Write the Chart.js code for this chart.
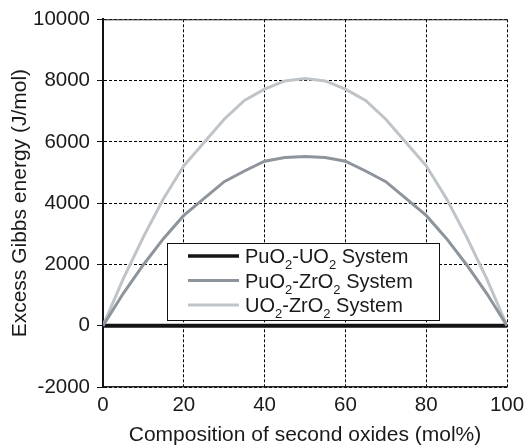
<!DOCTYPE html>
<html>
<head>
<meta charset="utf-8">
<script src="https://cdn.jsdelivr.net/npm/chart.js@4/dist/chart.umd.min.js"></script>
<style>
  html, body { margin: 0; padding: 0; background: #fff; }
  #wrap { width: 524px; height: 446px; }
</style>
</head>
<body>
<div id="wrap"><canvas id="gibbs-chart" width="524" height="446"></canvas></div>
<script>
// composition of second oxide (mol%)
const composition = [0, 5, 10, 15, 20, 30, 35, 40, 45, 50, 55, 60, 65, 70, 80, 85, 90, 95, 100];
// excess Gibbs energy (J/mol)
const puo2Uo2 = [0, 0, 0, 0, 0, 0, 0, 0, 0, 0, 0, 0, 0, 0, 0, 0, 0, 0, 0];
const puo2Zro2 = [0, 1050, 1990, 2850, 3600, 4700, 5050, 5370, 5490, 5520, 5490, 5370, 5050, 4700, 3600, 2850, 1990, 1050, 0];
const uo2Zro2 = [0, 1530, 2900, 4150, 5220, 6740, 7350, 7720, 7990, 8070, 7990, 7720, 7350, 6740, 5220, 4150, 2900, 1530, 0];

const seriesLabels = ["PuO₂-UO₂ System", "PuO₂-ZrO₂ System", "UO₂-ZrO₂ System"];
const seriesColors = ["#141414", "#8d949b", "#bfc4c9"];
const xTicks = [0, 20, 40, 60, 80, 100];
const yTicks = [-2000, 0, 2000, 4000, 6000, 8000, 10000];

const FONT = "'Liberation Sans', Arial, Helvetica, sans-serif";

function toPoints(ys) {
  return composition.map((x, i) => ({ x: x, y: ys[i] }));
}

// draws "PuO₂-UO₂ System" with a real lowered subscript
function drawSubText(ctx, text, x, y) {
  const parts = text.split("₂");
  let cx = x;
  parts.forEach((part, i) => {
    ctx.font = "20px " + FONT;
    ctx.fillText(part, cx, y);
    cx += ctx.measureText(part).width;
    if (i < parts.length - 1) {
      ctx.font = "13px " + FONT;
      ctx.fillText("2", cx, y + 6);
      cx += ctx.measureText("2").width;
    }
  });
}

const boxLegend = {
  id: "boxLegend",
  afterDraw(chart) {
    const ctx = chart.ctx;
    const area = chart.chartArea;
    ctx.save();
    // solid top frame line
    ctx.strokeStyle = "#222";
    ctx.lineWidth = 1;
    ctx.beginPath();
    ctx.moveTo(area.left, area.top + 0.5);
    ctx.lineTo(area.right, area.top + 0.5);
    ctx.stroke();

    const bx = 167, by = 243, bw = 272, bh = 77;
    ctx.fillStyle = "#fff";
    ctx.fillRect(bx, by, bw, bh);
    ctx.strokeStyle = "#111";
    ctx.lineWidth = 1;
    ctx.strokeRect(bx + 0.5, by + 0.5, bw, bh);
    ctx.textBaseline = "alphabetic";
    seriesLabels.forEach((label, i) => {
      const rowY = by + 13 + i * 24.5;
      ctx.strokeStyle = seriesColors[i];
      ctx.lineWidth = i === 0 ? 3.5 : 3;
      ctx.beginPath();
      ctx.moveTo(188, rowY);
      ctx.lineTo(239, rowY);
      ctx.stroke();
      ctx.fillStyle = "#1a1a1a";
      drawSubText(ctx, label, 245, rowY + 7);
    });
    ctx.restore();
  }
};

new Chart(document.getElementById("gibbs-chart"), {
  type: "line",
  data: {
    datasets: [
      { label: seriesLabels[1], data: toPoints(puo2Zro2), borderColor: seriesColors[1], borderWidth: 3 },
      { label: seriesLabels[2], data: toPoints(uo2Zro2), borderColor: seriesColors[2], borderWidth: 3 },
      { label: seriesLabels[0], data: toPoints(puo2Uo2), borderColor: seriesColors[0], borderWidth: 4 },
    ]
  },
  options: {
    responsive: false,
    animation: false,
    layout: { padding: { top: 16, right: 0, left: 0, bottom: 0 } },
    elements: { point: { radius: 0 }, line: { tension: 0 } },
    plugins: { legend: { display: false }, tooltip: { enabled: false } },
    scales: {
      x: {
        type: "linear",
        min: 0,
        max: 100,
        afterBuildTicks: (scale) => { scale.ticks = xTicks.map((v) => ({ value: v })); },
        afterFit: (scale) => {
          scale.height = 59;
          scale.paddingLeft = 0;
          scale.paddingRight = 17;
        },
        grid: { color: "#000", lineWidth: 1, drawTicks: false },
        border: { display: true, color: "#222", width: 1.5, dash: [3, 2] },
        ticks: { color: "#1a1a1a", font: { family: FONT, size: 20.5 }, padding: 6, callback: (v) => String(v) },
        title: { display: true, text: "Composition of second oxides (mol%)", color: "#1a1a1a", font: { family: FONT, size: 21, lineHeight: 1 }, padding: { top: 2, bottom: 0 } }
      },
      y: {
        min: -2000,
        max: 10000,
        afterBuildTicks: (scale) => { scale.ticks = yTicks.map((v) => ({ value: v })); },
        afterFit: (scale) => { scale.width = 103; },
        grid: { color: "#000", lineWidth: 1, drawTicks: true, tickLength: 6, tickColor: "#111", tickWidth: 1 },
        border: { display: true, color: "#111", width: 2, dash: [3, 2] },
        ticks: { color: "#1a1a1a", font: { family: FONT, size: 20.5 }, padding: 7, callback: (v) => String(v) },
        title: { display: true, text: "Excess Gibbs energy (J/mol)", color: "#1a1a1a", font: { family: FONT, size: 21, lineHeight: 1 }, padding: { top: 10, bottom: 0 } }
      }
    }
  },
  plugins: [boxLegend]
});
</script>
</body>
</html>
